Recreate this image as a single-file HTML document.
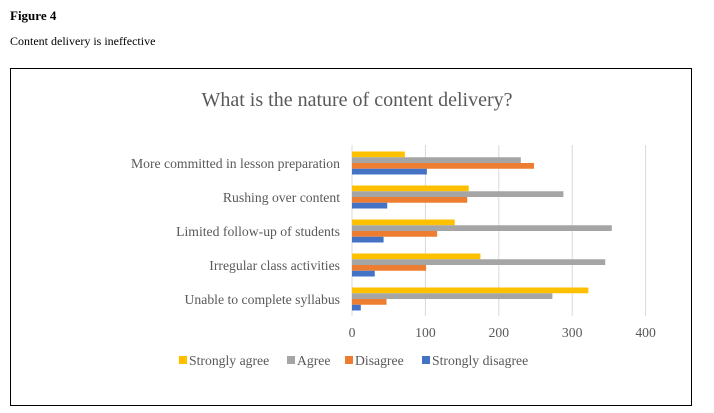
<!DOCTYPE html>
<html><head><meta charset="utf-8"><style>
body{margin:0;width:714px;height:413px;background:#fff;overflow:hidden;font-family:"Liberation Serif",serif}
</style></head><body>
<svg width="714" height="413" style="position:absolute;left:0;top:0">
<text x="10" y="20" font-size="13" font-weight="bold" font-family="Liberation Serif">Figure 4</text>
<text x="10" y="45" font-size="12" font-family="Liberation Serif">Content delivery is ineffective</text>
<rect x="10.5" y="68.5" width="681" height="337" fill="none" stroke="#000" stroke-width="1"/>
<text x="357" y="106" text-anchor="middle" font-size="20" fill="#595959" font-family="Liberation Serif">What is the nature of content delivery?</text>
<g id="plot"></g>
</svg>
<script>
const categories=["More committed in lesson preparation","Rushing over content","Limited follow-up of students","Irregular class activities","Unable to complete syllabus"];
const stronglyAgree=[72,159,140,175,322];
const agree=[230,288,354,345,273];
const disagree=[248,157,116,101,47];
const stronglyDisagree=[102,48,43,31,12];
const ticks=[0,100,200,300,400];
const seriesNames=["Strongly agree","Agree","Disagree","Strongly disagree"];
const colors=["#FFC000","#A5A5A5","#ED7D31","#4472C4"];
const NS="http://www.w3.org/2000/svg";
const g=document.getElementById('plot');
const x0=352,pxPer=0.734,plotTop=146,band=34;
const xs=v=>x0+v*pxPer;
function mk(t,a){const e=document.createElementNS(NS,t);for(const k in a)e.setAttribute(k,a[k]);g.appendChild(e);return e;}
ticks.forEach(t=>{
 const l=mk('line',{x1:xs(t),x2:xs(t),y1:plotTop-1,y2:plotTop+band*5,stroke:'#d9d9d9','stroke-width':1});
 
 
 const tx=mk('text',{x:xs(t),y:337,'text-anchor':'middle','font-size':13.7,fill:'#595959'});
 tx.textContent=t;
 
 
});
const series=[stronglyAgree,agree,disagree,stronglyDisagree];
categories.forEach((c,i)=>{
 const cy=plotTop+band*i+band/2;
 const tx=mk('text',{x:340,y:cy+5,'text-anchor':'end','font-size':13.7,fill:'#595959'});
 tx.textContent=c;
 
 
 series.forEach((s,j)=>{
  const r=mk('rect',{x:x0,y:cy-11.5+j*5.75,width:xs(s[i])-x0,height:5.75,fill:colors[j]});
  
  
 });
});
const lx=[179,287,345,422];
seriesNames.forEach((n,j)=>{
 const r=mk('rect',{x:lx[j],y:356,width:8,height:8,fill:colors[j]});
 
 
 const t=mk('text',{x:lx[j]+10,y:365,'font-size':13.7,fill:'#595959'});
 t.textContent=n;
 
 
});
</script>
</body></html>
